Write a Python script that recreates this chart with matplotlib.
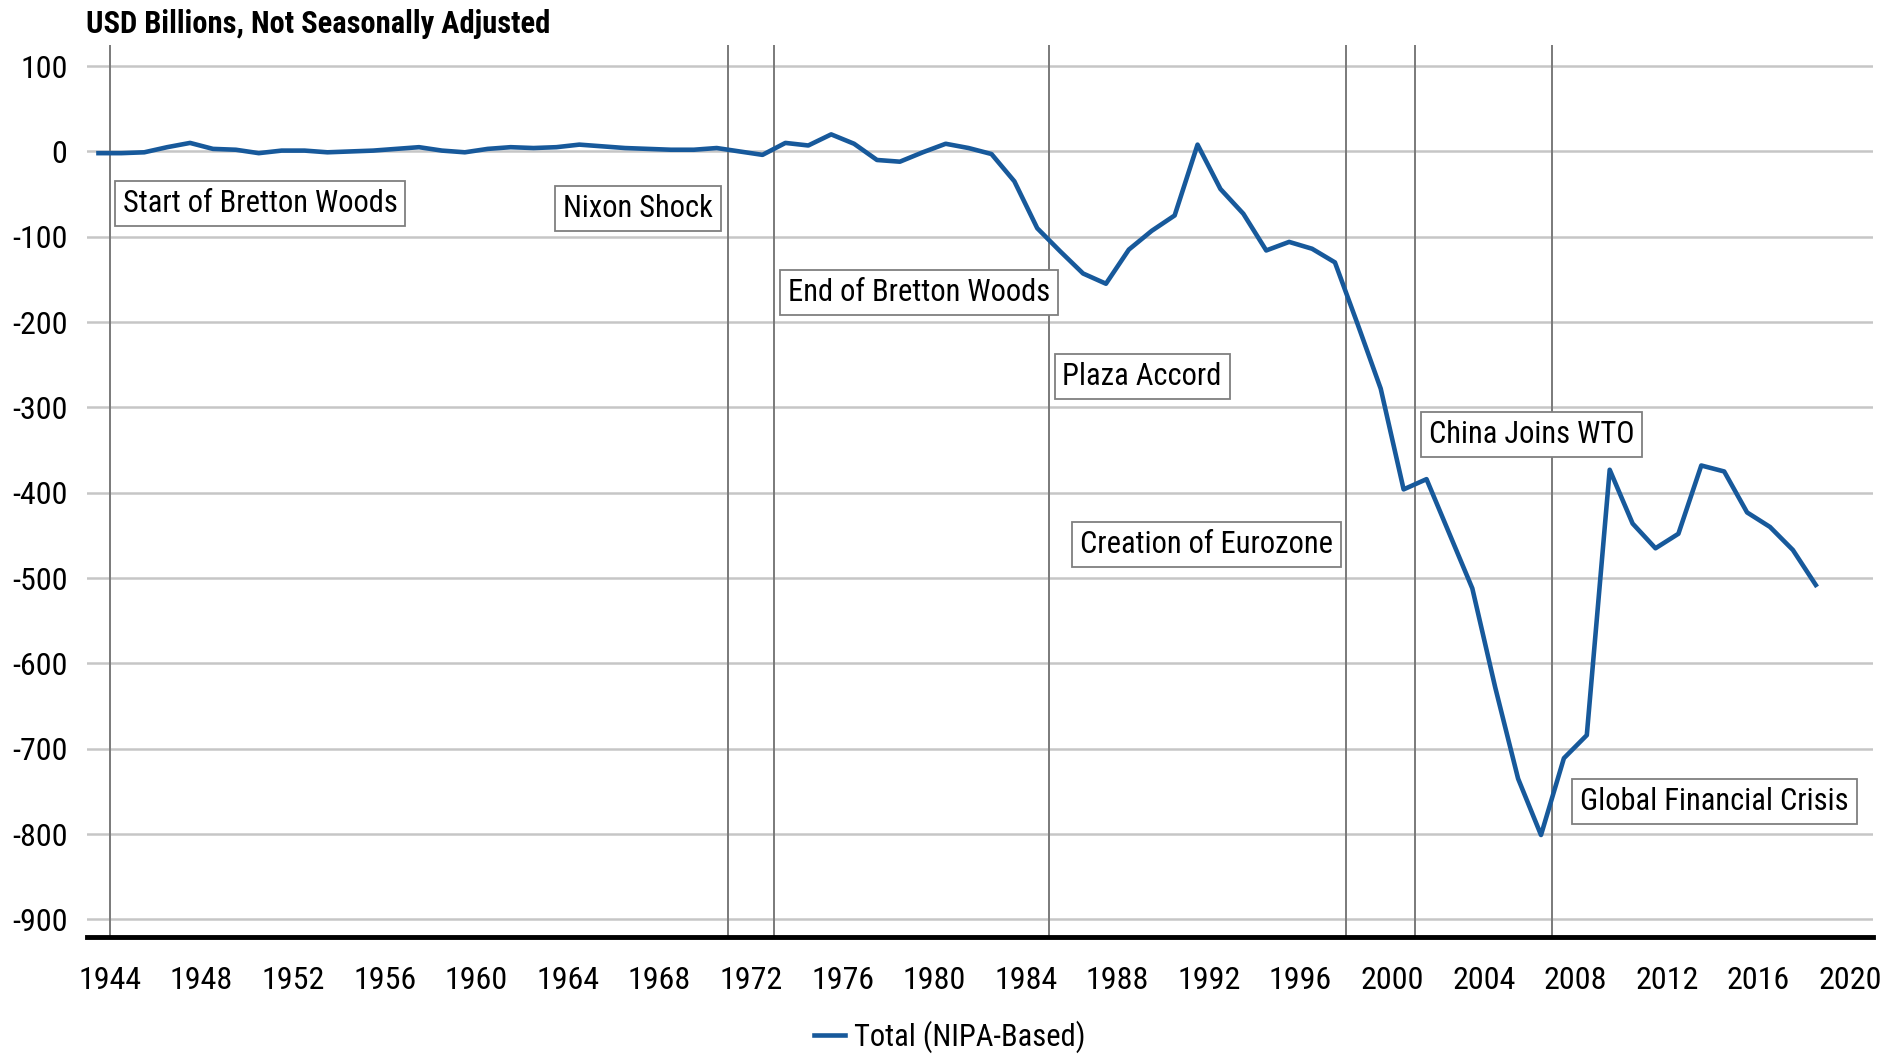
import numpy as np
import matplotlib.pyplot as plt
from matplotlib import font_manager

years = list(range(1943, 2019))
total = [-2, -2, -1, 5, 10, 3, 2, -2, 1, 1,
         -1, 0, 1, 3, 5, 1, -1, 3, 5, 4,
         5, 8, 6, 4, 3, 2, 2, 4, 0, -4,
         10, 7, 20, 9, -10, -12, -1, 9, 4, -3,
         -35, -90, -117, -143, -155, -115, -93, -75, 8, -44,
         -73, -116, -106, -114, -130, -203, -278, -396, -384, -448,
         -512, -628, -735, -801, -711, -684, -373, -436, -465, -448,
         -368, -375, -423, -440, -467, -508]

event_years = [1944, 1971, 1973, 1985, 1998, 2001, 2007]
event_labels = ['Start of Bretton Woods', 'Nixon Shock', 'End of Bretton Woods',
                'Plaza Accord', 'Creation of Eurozone', 'China Joins WTO',
                'Global Financial Crisis']

# where each event box sits (x, y in data units, horizontal alignment)
label_pos = [(1944.55, -61, 'left'), (1970.35, -67, 'right'), (1973.6, -165, 'left'),
             (1985.6, -264, 'left'), (1997.4, -461, 'right'), (2001.6, -332, 'left'),
             (2008.2, -762, 'left')]

names = {f.name for f in font_manager.fontManager.ttflist}
narrow = [f for f in ['Liberation Sans Narrow', 'Roboto Condensed', 'Open Sans Condensed',
                      'Arial Narrow'] if f in names]
fam = narrow + [f for f in ['Liberation Sans', 'DejaVu Sans'] if f in names]
plt.rcParams['font.family'] = fam
plt.rcParams['axes.unicode_minus'] = False

# condensed face if there is one, otherwise shrink a little to keep widths
if narrow:
    fs_tick, fs_box, fs_title = 23, 22, 22
else:
    fs_tick, fs_box, fs_title = 20.5, 19.5, 18.5

blue = '#17599b'

fig = plt.figure(figsize=(19, 10.56), dpi=100)
ax = fig.add_axes([0.0458, 0.1131, 0.94, 0.8445])

x = np.array(years) + 0.5  # annual values plotted at mid-year
ax.plot(x, total, color=blue, lw=3.3, label='Total (NIPA-Based)', zorder=4)

for yr in event_years:
    ax.axvline(yr, color='#7a7a7a', lw=1.4, zorder=2)

for lab, (lx, ly, ha) in zip(event_labels, label_pos):
    ax.text(lx, ly, lab, ha=ha, va='center', fontsize=fs_box, color='black', zorder=5,
            bbox=dict(boxstyle='square,pad=0.26', fc='white', ec='#7f7f7f', lw=1.3))

ax.set_xlim(1943.0, 2021.0)
ax.set_ylim(-920, 125)
ax.set_yticks(range(-900, 101, 100))
ax.set_xticks(range(1944, 2021, 4))
ax.grid(axis='y', color='#c6c6c6', lw=1.8, zorder=1)
ax.tick_params(axis='both', length=0, labelsize=fs_tick)
ax.tick_params(axis='x', pad=21)
ax.tick_params(axis='y', pad=14)

for s in ['left', 'right', 'top']:
    ax.spines[s].set_visible(False)
ax.spines['bottom'].set_linewidth(3.5)
ax.spines['bottom'].set_color('black')

fig.text(0.0455, 0.977, 'USD Billions, Not Seasonally Adjusted', fontsize=fs_title,
         fontweight='bold', ha='left', va='center')

fig.legend(loc='center', bbox_to_anchor=(0.5, 0.018), frameon=False, fontsize=fs_box,
           handlelength=1.0, handletextpad=0.3)

plt.savefig('out.png', dpi=100)
